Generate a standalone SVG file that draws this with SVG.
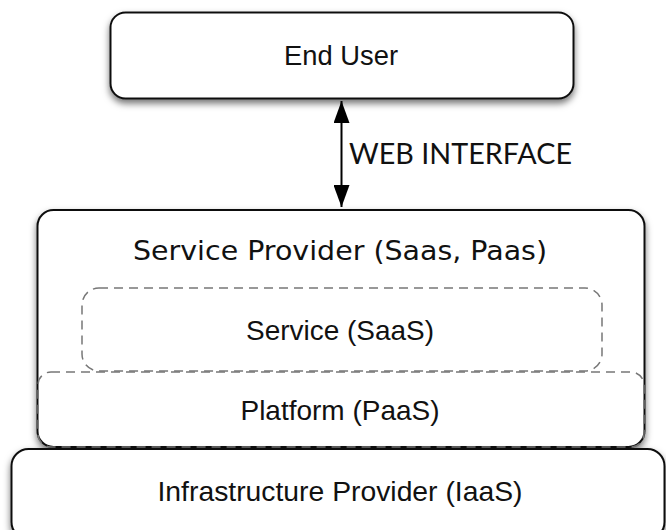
<svg xmlns="http://www.w3.org/2000/svg" width="666" height="530" viewBox="0 0 666 530">
  <defs>
    <filter id="shadow" x="-10%" y="-20%" width="120%" height="150%">
      <feDropShadow dx="0" dy="4" stdDeviation="3.5" flood-color="#000" flood-opacity="0.55"/>
    </filter>
    <marker id="head" viewBox="0 0 22 16" refX="22" refY="8" markerWidth="22" markerHeight="16" markerUnits="userSpaceOnUse" orient="auto-start-reverse">
      <path d="M0,0 L22,8 L0,16 Z" fill="#000"/>
    </marker>
    <style>
      .box { fill: #fff; stroke: #111; stroke-width: 2; }
      .dash { fill: none; stroke: #777; stroke-width: 1.5; stroke-dasharray: 9 6; }
      .lbl { font-family: "Liberation Sans", Arial, sans-serif; font-size: 27.5px; fill: #111; text-anchor: middle; }
      .title { font-family: "DejaVu Sans", "Liberation Sans", sans-serif; font-size: 27px; fill: #111; text-anchor: middle; }
      .edge { font-family: Lato, "Open Sans", sans-serif; font-size: 29px; fill: #111; }
    </style>
  </defs>

  <g id="end-user">
    <rect class="box" x="110.5" y="12.5" width="463" height="86" rx="15" filter="url(#shadow)"/>
    <text class="lbl" x="341" y="65" textLength="114" lengthAdjust="spacingAndGlyphs">End User</text>
  </g>

  <g id="service-provider">
    <rect class="box" x="37.5" y="210" width="607" height="237" rx="16" filter="url(#shadow)"/>
    <text class="title" x="340" y="260" textLength="414" lengthAdjust="spacingAndGlyphs">Service Provider (Saas, Paas)</text>
  </g>

  <g id="saas">
    <rect class="dash" x="82" y="288" width="520" height="83" rx="17"/>
    <text class="lbl" x="340" y="340" textLength="188" lengthAdjust="spacingAndGlyphs">Service (SaaS)</text>
  </g>

  <g id="paas">
    <rect class="dash" x="38" y="372" width="606" height="75" rx="13"/>
    <text class="lbl" x="340" y="420" textLength="199" lengthAdjust="spacingAndGlyphs">Platform (PaaS)</text>
  </g>

  <g id="iaas">
    <rect class="box" x="11.5" y="449" width="653" height="90" rx="17" filter="url(#shadow)"/>
    <text class="lbl" x="340" y="501" textLength="365" lengthAdjust="spacingAndGlyphs">Infrastructure Provider (IaaS)</text>
  </g>

  <g id="connectors">
    <line x1="341.5" y1="101" x2="341.5" y2="207" stroke="#000" stroke-width="2" marker-start="url(#head)" marker-end="url(#head)"/>
    <text class="edge" x="349" y="164" textLength="223" lengthAdjust="spacingAndGlyphs">WEB INTERFACE</text>
  </g>
</svg>
